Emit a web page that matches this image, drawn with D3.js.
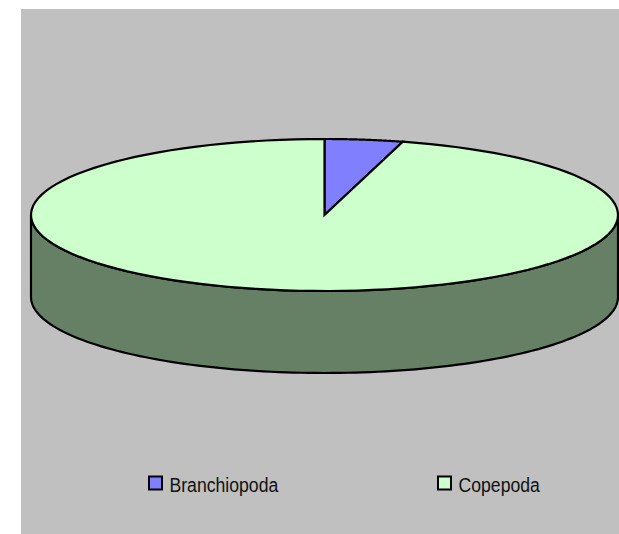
<!DOCTYPE html>
<html>
<head>
<meta charset="utf-8">
<script src="https://cdn.jsdelivr.net/npm/d3@7"></script>
<style>
html,body{margin:0;padding:0;background:#fff;}
svg{display:block;}
</style>
</head>
<body>
<svg id="chart" width="619" height="534"></svg>
<script>
const categories = ["Branchiopoda", "Copepoda"];
const values = [4.3, 95.7];
const colors = ["#8080FF", "#CCFFCC"];
const sideColors = ["#404080", "#668066"];

const svg = d3.select("#chart");
svg.append("rect").attr("x", 21).attr("y", 9).attr("width", 598).attr("height", 525).attr("fill", "#C0C0C0");

const cx = 324.5, cy = 215, rx = 293.5, ry = 76, depth = 82;

const pie = d3.pie().sort(null).value(d => d)(values);

function pt(a, dy = 0) {
  return [cx + rx * Math.sin(a), cy - ry * Math.cos(a) + dy];
}
function arcPath(a0, a1, dy = 0, n = 120) {
  return d3.range(n + 1).map(i => pt(a0 + (a1 - a0) * i / n, dy));
}

const g = svg.append("g");

pie.forEach((d, i) => {
  const s = Math.max(d.startAngle, Math.PI / 2);
  const e = Math.min(d.endAngle, 3 * Math.PI / 2);
  if (e <= s) return;
  const top = arcPath(s, e);
  const bot = arcPath(e, s, depth);
  g.append("path").attr("d", d3.line()(top.concat(bot)) + "Z").attr("fill", sideColors[i])
    .attr("stroke", "#000").attr("stroke-width", 2.2).attr("stroke-linejoin", "round");
});

pie.forEach((d, i) => {
  const pts = [[cx, cy]].concat(arcPath(d.startAngle, d.endAngle));
  g.append("path").attr("d", d3.line()(pts) + "Z").attr("fill", colors[i])
    .attr("stroke", "#000").attr("stroke-width", 2.2).attr("stroke-linejoin", "miter");
});

const legendX = [148, 437];
const lg = svg.append("g");
categories.forEach((c, i) => {
  lg.append("rect").attr("x", legendX[i] + 1).attr("y", 476.5).attr("width", 13).attr("height", 13)
    .attr("fill", colors[i]).attr("stroke", "#000").attr("stroke-width", 2);
  const t = lg.append("text")
    .attr("transform", `translate(${legendX[i] + 21.5},492.3) scale(0.84,1)`)
    .attr("font-family", "'Liberation Sans', Arial, sans-serif")
    .attr("font-size", 21).attr("fill", "#111").text(c);
});
</script>
</body>
</html>
